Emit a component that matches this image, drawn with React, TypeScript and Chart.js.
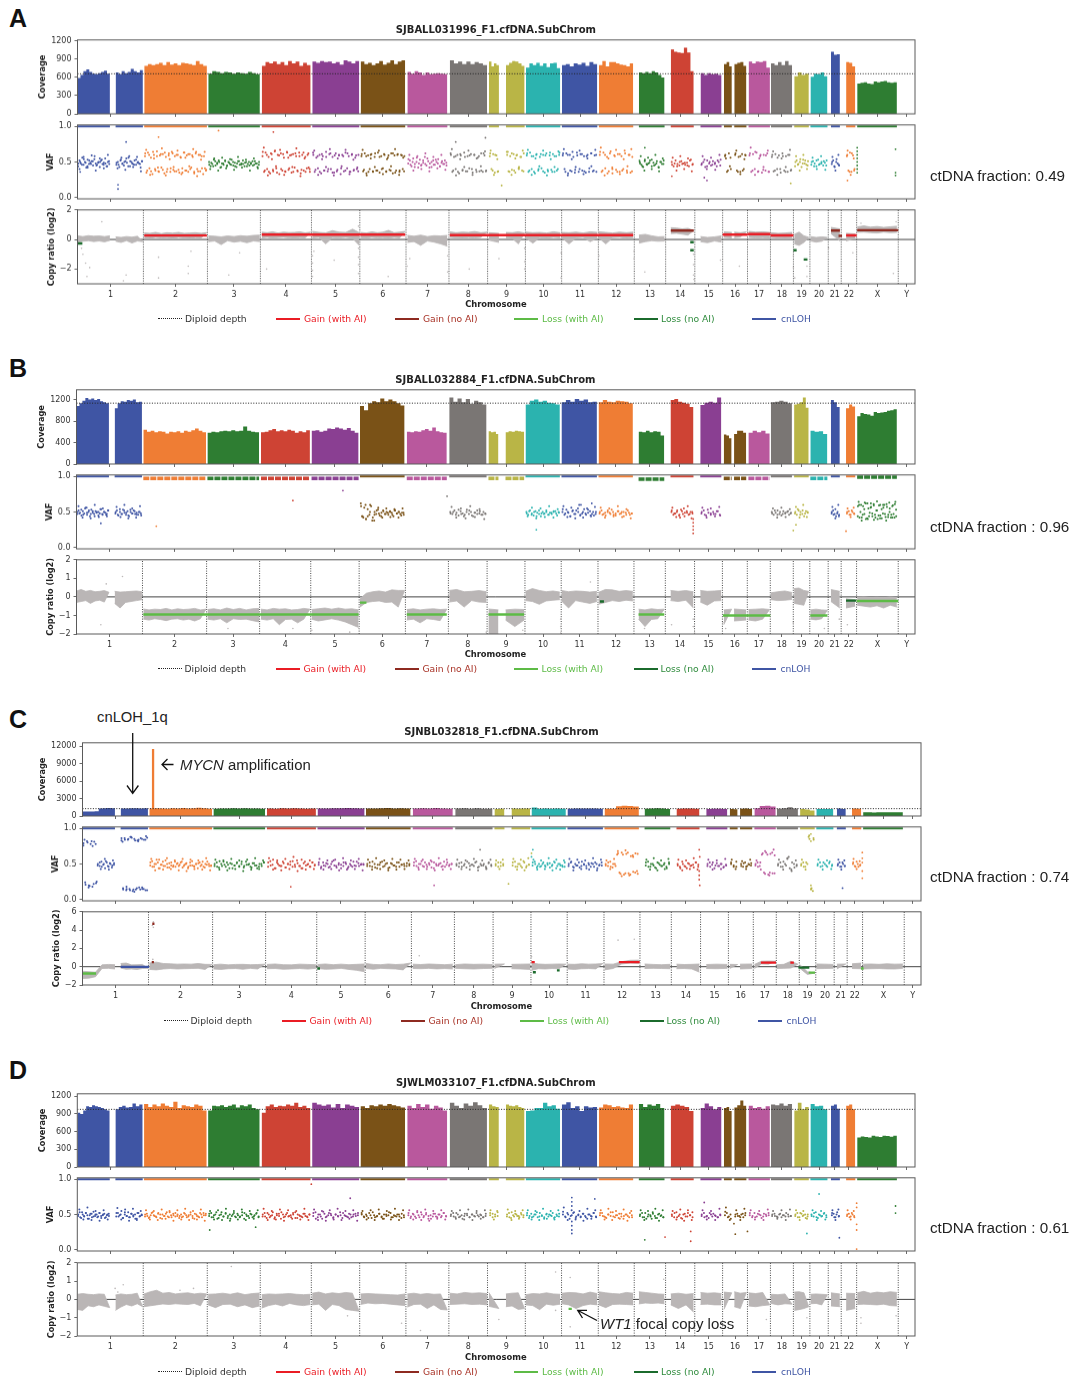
import React, { useEffect, useRef } from "react";
import { Chart, registerables } from "chart.js";
Chart.register(...registerables);

const chromLabels = ["1","2","3","4","5","6","7","8","9","10","11","12","13","14","15","16","17","18","19","20","21","22","X","Y"];
const chromEnds = [244,481,677,866,1045,1216,1375,1518,1658,1792,1928,2061,2177,2285,2388,2480,2565,2650,2711,2779,2827,2884,3038,3100];
const chromColors = ["#3F55A4","#EF7D34","#2E7D32","#CE4334","#8A3F92","#7A5217","#B9589D","#7A7674","#B9B546","#2BB3AF"];
// arm = [genome start, genome end, chromosome index]
const arms = [[0,120,0],[141,242,0],[247,479,1],[484,675,2],[682,863,3],[869,1043,4],[1048,1213,5],[1221,1369,6],[1378,1516,7],[1523,1560,8],[1586,1655,8],[1660,1787,9],[1793,1924,10],[1930,2057,11],[2078,2173,12],[2196,2281,13],[2306,2384,14],[2393,2422,15],[2431,2476,15],[2484,2563,16],[2567,2645,17],[2653,2707,18],[2713,2776,19],[2789,2822,20],[2845,2879,21],[2886,3033,22]];

const covA = [[590,640,700,730,690,660,650,670,690,710,660],[680,650,700,670,690,740,700,680,720],[790,820,800,820,840,800,850,810,830,800,840,830,820,800,870,820,790],[660,700,690,670,690,680,660,680,670,660,690,670,650],[790,850,830,860,820,850,800,870,830,860,790,840,800],[860,840,870,850,860,830,850,810,880,860,830,870],[860,820,840,800,830,870,810,840,880,820,860,880],[690,660,700,680,640,680,650,660,670,660,650],[880,830,860,820,860,820,850,830,800],[860,780,830,800],[800,840,870,860,830,790],[760,830,800,840,790,830,770,830,840,750],[800,820,780,830,810,840,790,850,820],[800,870,780,850,850,830,810,800,780,830],[680,670,690,670,700,680,640,600],[1060,1020,1010,1000,1090,1010,700],[670,640,670,650,660,640],[820,850,780],[820,840,850,790],[860,830,860,850,870,760],[830,800,850,800,870,800],[620,680,640,660],[610,660,650,680,620],[1020,970,980],[850,840,780],[500,510,520,500,490,530,520,530,540,520,510,520]];
const covB = [[1080,1130,1180,1230,1200,1220,1190,1210,1170,1150,1130],[1040,1130,1170,1160,1190,1180,1200,1150,1160],[640,600,620,590,610,600,570,600,590,610,580,620,600,630,660,620,590],[580,600,590,610,620,610,630,610,620,700,620,600,590],[590,600,630,650,610,630,610,640,620,580,610,590,630],[620,630,600,620,660,650,680,660,640,670,620,580],[1080,1000,1130,1170,1150,1220,1170,1200,1170,1130,1090],[600,590,610,600,630,650,620,680,610,590,580],[1240,1160,1220,1150,1210,1120,1180,1150,1110],[610,590,600,560],[590,610,600,620,610,600],[1110,1180,1200,1160,1180,1140,1130,1110],[1150,1190,1160,1210,1180,1200,1150,1160],[1150,1190,1160,1150,1180,1170,1160,1130],[600,590,620,590,610,600,530],[1190,1210,1160,1140,1120,1060],[1100,1140,1160,1140,1240],[550,530,480],[560,620,620,580],[580,620,590,620,570],[1150,1160,1180,1160,1130],[1110,1120,1150,1240,1050],[620,600,610,560],[1190,1150,1060],[1040,1110,1070],[890,950,930,920,900,970,950,960,970,990,1000,1020]];
const covC = [[760,780,770,800,1300,1320,1380,1330],[1280,1300,1340,1310,1290,1330],[1300,1320,1280,1260,1340,1300,1380,1290,1330,1400,1350,1260],[1240,1300,1280,1310,1290,1340,1300,1280,1250],[1300,1260,1320,1290,1340,1300,1260,1290],[1280,1300,1330,1340,1380,1320,1290],[1300,1280,1320,1360,1290,1310,1270],[1280,1320,1300,1360,1290,1250],[1280,1320,1260,1340,1260,1230],[1200,1250],[1280,1260,1300,1270],[1460,1260,1280,1240,1290,1250],[1260,1300,1290,1280,1270,1240],[1240,1260,1680,1740,1700,1640],[1250,1290,1350,1280,1190],[1260,1300,1280,1230],[1220,1260,1240,1210],[1200,1170],[1260,1300,1220],[1340,1700,1760,1640],[1240,1340,1520,1280],[1200,1120,930],[1190,1220,1180],[1280,1190],[1270,1250],[660,640,610,630,640,660,650,640,660]];
const covD = [[920,900,960,1030,1020,1050,1030,1020,1000,980,960],[980,1020,1040,1010,1020,1080,1030,1060],[1070,1020,1060,1030,1080,1040,1020,1110,1000,1050,1030,1020,1060,1040,960],[960,1040,1030,1050,1020,1040,1060,1010,1050,1030,1060,1000,980],[920,1030,1060,1020,1040,1030,1060,1040,1090,1020,1040,1000],[1090,1060,1040,1060,1010,1070,1000,1060,1040,1020],[1030,1000,1050,1030,1060,1040,1070,1050,1030,1010],[1040,1000,1070,1020,1060,990,1040,1010,960],[1090,1040,1000,1080,1040,1100,1050,1000],[1060,1030,1020],[1060,1040,1030,1050,1020,1000],[950,960,1000,1000,1090,1030,1050,990],[1060,1100,1000,1030,950,1030,1010,1020],[1010,1060,1050,1020,1030,1010,1000,1060],[1070,1020,1060,1040,1070,1000],[1040,1060,1040,1020,950],[1000,1080,1030,980,1020],[1000,1020,950],[1010,1050,1130,1040],[1040,1000,1020,990,1030],[1060,1050,1080,1040,1070],[960,1090,980,1020],[1070,1030,1040,980],[1040,1060,990],[1040,1060,980],[500,520,510,500,530,520,510,530,525,515,530]];

const vafA = [
[48,50,46,54,49,44,52,47,51,58,45,49,50,53,46,48,44,51],[49,46,52,47,50,55,44,51,48,46,53,50,47,51],
[62,38,60,37,64,40,58,36,61,39,63,36,59,41,62,37,60,39,57,35,63,38,61,40,59,36,64,37,60,41,58,38],
[46,49,44,51,47,50,43,48,52,45,49,46,50,44,48,51,46,47,49,44,50,47,45,51,48,46],
[64,38,60,36,62,39,66,35,59,40,61,37,63,41,60,36,62,38,58,39,63,36,60,40],
[60,39,58,36,61,38,57,40,62,35,59,37,60,41,58,38,62,36,60,39,59,37],
[61,39,58,36,60,37,62,38,57,40,61,36,59,38,62,35,60,38,59,37],
[54,46,50,43,56,48,45,52,47,55,42,50,46,53,48,44,51,47,49],
[60,38,58,36,61,39,57,37,59,40,60,36,58,38,62,37],[62,38,60,36],[60,36,62,38,59,40,57,37],
[62,38,58,36,60,40,61,37,59,39,63,36,58,38,60],[62,36,60,38,64,35,59,40,61,37,58,36,62,38,60],[64,38,60,34,62,40,58,36,61,38,66,35,60,37],
[48,44,51,46,49,53,45,48,42,50,47],[46,48,44,50,47,49,45,52,46],[48,53,44,50,46,49,52,45],[60,38,56],[62,36,58,38,60],
[62,38,64,36,60,39,59,36],[60,38,56,40,58,36,60,38],[50,46,54,48,52,45],[50,44,52,46,48,51,45],[50,44,54,46],[60,36,62,38],[]];
const vafA2 = [
[44,52,48,56,46,50,42,53,47,49,51,45,54,48,46,50,43,52,47,49,55,44,50,47],[46,50,43,53,48,45,51,49,56,44,50,47,52,46,49,48,42,51],
[58,35,63,41,56,33,60,38,65,37,59,42,61,34,57,40,62,36,64,39,58,37,60,35,56,41,63,38,59,36,61,42,57,34,62,40,60,37,58,33,64,39],
[50,44,47,53,45,49,52,42,48,46,51,44,50,47,53,45,49,43,51,46,48,52,44,50,47,45,49,51,46,48,43,50],
[58,36,63,40,57,34,61,37,65,41,60,33,62,38,56,36,64,39,59,35,61,42,58,37,63,34,60,38,57,41,62,36],
[63,36,56,41,60,34,58,38,64,37,61,40,57,35,62,39,59,33,60,37,63,41,58,36,61,38,56,40,60],
[58,37,62,34,59,40,61,36,57,38,63,35,58,41,60,37,56,39,62,34,59,38,61,36,60,40,58],
[48,52,44,55,47,50,42,53,46,49,57,45,51,48,43,52,46,50,54,44,49,47,52,45],
[62,36,57,40,60,34,59,38,63,37,58,41,61,35,60,39,56,37,62,36,59,38],[58,40,61,35,59,37],[64,37,58,39,61,35,60,41,57,38,62],
[59,36,63,40,58,34,61,38,57,41,60,35,62,37,59,39,61,36,58,40,63],[59,40,62,34,60,37,57,39,63,36,61,38,58,35,60,41,62,37,59,36],[60,36,63,41,57,37,65,34,59,39,61,36,58,40,62,38,60,35,57],
[50,46,43,53,47,48,52,44,49,46,51,43,50,47,52],[50,44,52,47,45,51,48,46,49,44,53,47],[46,50,43,52,48,45,51,47,44,50,53],[58,36,62,40],[60,38,57,36,61,40,59],
[59,36,61,40,63,37,58,35,60,38,62,36],[57,37,61,40,59,35,62,38,58,36,60,39],[44,52,47,50,43,53,48,46,51],[46,51,48,44,53,47,50,45,49,52],[47,52,43,50,48,45],[58,38,63,36,59,40],[]];
const vafA3 = [
[40,57,42,59,38,55,41,60],[41,56,39,58,43,57,37],
[67,32,55,42,69,31,54,43,66,33,56,44,68,30,53,41],[40,55,38,56,41,54,39,57,42,53,38,55,41],
[70,31,54,44,67,32,56,43,69,30,55,42],[66,32,54,43,68,31,55,44,67,33,53,42],[67,31,55,43,66,33,54,44,68,32,56],
[60,38,58,40,62,37,57,41,60,39],[68,31,54,43,66,32,55,44,65],[66,32,54],[64,32,55,43,66],
[67,32,55,44,66,31,54,43,65],[68,31,54,43,66,33,55,44,67],[70,31,55,42,67,33,54,44,68],
[58,38,56,40,60,37,55],[56,38,58,40,55,37],[58,40,56,39,60],[55,44],[66,33,54],[70,32,55,43,66],[65,32,55,43,67],[58,38,60,40],[56,40,58,39],[57,38,60],[66,32,55],[]];
const vafB = [
[50,48,53,46,55,49,52,47,51,44,49,50,54,47,50,46,52],[50,46,54,47,52,49,45,53,48,51,46,50,48],[],[],[],[],
[58,42,60,44,50,38,46,52,48,44,51,47,49,50,46,52,48,50,45,49],[],[48,50,46,53,47,44,50,52,45,49,47,51,46,48],[],[],
[48,51,46,50,44,52,48,47,50,46,49,51,48,50],[54,48,50,44,52,47,55,46,50,48,53,45,50,47],[50,46,49,52,47,50,45,51,48,50,46,49,48],
[],[52,48,50,46,51,44,49,47,50],[50,46,53,48,47,51,46],[],[],[],[48,52,46,50,47,49,51,48],[50,54,46,52,48,50],[],[50,46,54,48,44],[50,46,52,48],
[58,42,60,46,54,40,62,44,56,48,59,42,52,45,60,41,56,47,61,43,55,46,59,42,53]];
const vafB2 = [
[47,52,49,45,51,48,56,46,50,44,53,49,47,51,50,45,48,54,46,50,49,47,52],[48,52,45,50,47,53,49,46,51,44,50,48,52,47,49,46,50,45],[],[],[],[],
[62,44,56,40,54,46,58,42,50,47,53,45,49,52,47,50,46,51,49,44,52,48,50,47,49,46],[],[50,47,52,49,45,51,48,46,53,47,50,44,49,52,48,46,50,47],[],[],
[50,46,52,48,45,51,49,47,44,50,48,52,46,49,47,50,51,45,49],[50,46,53,49,44,51,47,52,50,45,48,54,46,49,51,47,45,50],[48,52,47,45,50,49,53,46,48,51,47,50,44,49,52,46,48],
[],[50,46,48,52,45,53,47,49,51,46,50,48],[48,52,45,49,46,50,47,51,45],[],[],[],[50,46,49,52,47,45,51,48,50,46,49],[48,46,52,50,47,44,51,49],[],[48,52,47,44,50,46],[48,51,46,50,47],
[44,60,50,42,58,47,62,41,55,49,57,44,61,46,52,40,59,45,54,48,60,43,57,46,50,42,58,47,61,44]];
const vafB3 = [
[58,42,56,41,60,43,55,44],[57,43,60,41,55,42,58],[],[],[],[],
[44,40,60,38,56,42,55,43,54,42,55],[],[57,42,55,41,58,43,54,40],[],[],
[44,56,41,55,43,58,42,54],[58,43,56,41,60,42,55,44,57],[56,42,55,44,58,43,54,41],
[],[56,43,42,55,58,41],[56,42,55,44,57],[],[],[],[55,42,56,43,54],[57,42,60,43],[],[57,41,60],[55,43,56],
[64,38,63,40,62,39,65,41,60,38,63,42,64]];
const vafC = [
[79,21,80,19,82,22,78,48,52,46,50,54,47,51,45,49],[86,14,84,15,85,13,87,14,83,16,84,14,85,15,84,13],
[52,46,50,56,44,49,53,47,50,45,52,48,46,51,49,53,47,50,44,52,48,46,50,51,47,53,45,49,50,47],
[50,46,54,47,49,52,44,50,48,51,46,53,47,49,50,45,51,48,46,50,52],[52,48,56,44,50,47,53,45,50,49,54,46,51,47,44,53,49,46,52,48],
[52,46,48,51,45,50,55,47,49,44,52,50,46,48,53,47,51,49,50],[50,47,53,45,49,52,46,50,44,51,48,46,52,49,50,47,48],
[52,47,50,54,46,49,51,45,52,48,50,46,53,49,47,50],[48,51,46,50,53,47,49,52,45,50,48,46,51,49],[50,46,52,48],[52,46,50,47,54,45,49],
[52,50,47,46,50,48,51,45,49,52,47,50,48,46],[50,53,45,48,52,47,50,44,49,51,46,50,48,52],[48,52,46,50,47,65,36,63,37,66,35,62,38,64],
[52,46,50,48,44,51,47,49,46,52],[48,44,50,46,51,47,49,52,46],[50,46,52,48,47,50,45,49],[52,48,46],[47,51,46,50,48],
[50,46,52,65,36,63,38,66,37],[50,46,53,48,60,42,50,47],[50,46,52,88,14,86],[50,46,52,48,51,47],[50,46,52,47],[52,46,50,48],[]];
const vafC2 = [
[76,24,82,20,78,18,81,23,50,47,53,49,44,52,46,50,48,51],[83,16,86,13,84,15,88,12,85,14,83,17,86,15,84,13,87],
[48,54,46,50,52,44,49,47,55,45,51,48,46,53,50,47,52,45,49,51,46,48,54,47,50,44,52,49,46,50,53,47,48],
[47,52,45,50,53,46,49,51,44,48,52,47,50,45,53,49,46,51,48,44,50,47,52],[46,54,49,44,52,48,47,51,45,50,53,46,49,55,47,44,51,48,50,46,52,49],
[49,44,52,47,50,46,53,48,45,51,49,47,52,44,50,46,48,53,47,50,49],[47,52,46,50,44,49,53,47,51,45,50,48,52,46,49,47,51,50],
[48,54,45,50,47,52,46,49,53,44,50,48,51,47,46,52,49,50],[50,46,52,48,45,51,49,47,53,46,48,50,44,52,47],[48,52,47,50],[48,53,46,50,45,52,47,49],
[48,53,45,50,47,52,46,49,51,47,53,44,50,48,46,52],[47,52,46,50,48,45,53,49,47,51,46,50,52,44,49,48],[50,47,53,45,50,63,38,66,35,64,37,61,39,65,36],
[48,53,46,50,45,52,49,47,51,44,50],[50,46,53,47,44,50,48,45,52,49],[47,52,49,44,51,47,50,46,48],[50,46,53],[50,46,52,47,49,51],
[48,52,47,63,38,66,35,64,37,62],[48,52,46,50,57,44,52,45,49],[48,52,46,50,85,16,84],[48,52,47,50,46,53,49],[48,52,46,50,47],[50,47,53,46,49],[]];
const vafC3 = [
[84,17,75,25,43,57,42,55],[81,18,88,11,82,17,89],
[57,41,56,42,58,43,55,41,57,40,56,43,55,42,58,41],[56,42,55,41,57,43,55,40,56,42,58,43,55],[58,42,55,41,57,43,60,40,56,42,55,43],[57,42,55,43,56,41,58,42,55,43,57,41],[56,42,58,43,55,41,57,42,56,43,55],
[57,42,56,43,55,41,58,42,56,43],[56,43,55,42,57,41,55,43,56],[55,43,56],[57,42,56,41,58],
[56,42,55,43,58,41,56,42,55],[57,41,56,43,55,42,58,41,56],[55,43,57,68,33,69,34,60,40],
[56,42,58,41,55,43,57],[56,41,55,43,58,42],[56,42,55,43,57],[56,43],[54,43,56],[55,42,68,34,70],[56,42,58,40,55],[56,42,90,12],[56,42,55,43],[56,42,55],[57,43,54],[]];
const vafD = [
[50,46,53,48,52,44,49,51,47,50,46,52,48,50,45,49,51],[52,47,50,45,53,48,46,51,49,44,52,47,50],
[50,48,46,52,49,47,51,45,50,48,53,46,49,51,47,50,48,46,52,49,47,50,45,51,48,46,50,52,49],
[51,46,49,53,45,50,47,52,48,44,50,47,51,46,49,52,48,45,50,47,51,46],[50,47,52,46,49,44,51,48,53,46,50,47,49,52,45,50,48,46,51,47,50],
[52,44,50,47,54,46,49,51,45,50,47,49,52,48,46,50,47,51,49],[50,46,48,52,45,49,47,51,46,50,48,53,46,49,47,50,45,49],
[52,47,50,45,49,53,46,50,48,44,51,47,50,46,52,48],[50,47,52,46,49,48,51,46,50,47,49,50,46,48],[52,46,50,48],[50,46,53,47,50,48,52,46],
[52,48,46,50,53,47,49,46,51,50,48,45,50,47],[54,46,50,48,52,45,49,47,51,46,50,48,52,47],[52,48,46,50,53,47,49,45,51,48,50,46,49],
[50,46,52,47,49,51,45,50,48,46],[48,52,46,50,44,51,47,49,53],[50,46,48,52,47,49,46,50],[54,46,50],[50,48,46,51,49],[52,48,46,51,49,47,50,52],[50,48,46,51,49,47,50,48],[50,46,52,48,50,47],[48,52,46,50,47,51,49],[52,46,50,47],[50,46,52,48],[]];
const vafD2 = [
[48,53,45,50,47,52,49,44,51,46,54,48,50,47,52,45,49,51,46,50,48],[47,52,49,55,45,50,48,53,46,51,47,50,44,52,48,49],
[47,51,45,49,53,48,46,52,50,44,48,51,47,53,46,49,52,48,45,50,47,51,46,49,53,48,44,50,47,52,46,49,51],
[48,52,46,50,44,49,53,47,51,45,50,48,52,46,49,47,53,44,50,48,51,46,49,52,47],[47,52,45,50,48,53,46,49,51,44,50,47,52,48,46,50,53,45,49,47,51,48,46,50],
[48,53,46,50,44,51,47,52,49,46,50,48,53,45,49,47,51,46,50,48,52],[52,47,50,45,49,53,46,48,51,47,44,50,49,52,46,48,50,47,51,46],
[49,45,51,47,53,46,50,48,52,44,49,47,51,46,50,48,52,47],[48,52,46,50,47,44,51,49,46,50,48,52,47,49,46,51],[49,51,47,53],[47,52,45,49,51,48,46,50,49],
[49,45,51,47,50,46,52,48,44,50,47,49,52,46,48,51],[50,47,52,44,49,53,47,50,46,51,48,44,50,47,52,46],[49,52,47,45,50,48,53,46,49,51,47,44,50,48,52,46],
[48,52,46,44,50,47,53,48,45,51,49,46],[50,46,53,48,45,50,47,52,49,46],[48,52,47,45,50,51,48,46,49],[49,52,47,44],[47,51,48,50,46,52],[49,46,52,47,50,45,51,48,49],[48,51,47,50,46,49,52,47,48],[48,52,46,51,49,45,50],[50,47,53,45,49,48,52,46],[49,51,46,53,48],[48,51,47,50,46],[]];
const vafD3 = [
[57,43,60,42,55,41,56,43],[59,43,57,41,58,42,55],
[56,43,55,42,57,44,55,41,56,43,58,42,55,43,57,41],[55,43,56,42,58,41,55,43,57,42,55,44,56],[58,42,55,43,57,41,56,44,55,43,58,42],[57,42,55,41,56,43,58,42,55,44,56,41],[55,43,56,42,57,44,55,43,58,42,56],
[56,43,55,42,57,41,55,44,56,43],[55,44,56,43,57,42,55,44,56],[56,43,55],[57,42,55,44,56],
[56,43,55,42,58,44,55,43,56],[60,42,56,43,55,41,58,44,56],[56,43,58,42,55,44,57,41,55],
[56,42,55,44,58,41,56],[55,43,57,41,56,42],[56,43,55,42,58],[60,42],[56,42,58],[56,43,55,42,57],[55,44,56,42,57],[56,42,55,44],[56,42,55,43],[56,42,57],[56,43,55],[]];

// level of the band of homozygous sites near VAF 1.0, one per arm (percent)
const topA = [100,100,100,100,100,100,100,100,100,100,100,100,100,100,100,100,100,100,100,100,100,100,100,100,100,100];
const topB = [100,100,97,97,97,97,100,97,100,97,97,100,100,100,96,100,100,97,97,97,100,100,97,100,100,99];
const topC = topA;
const topD = topA;

// outlying VAF points: [genome position, percent, chromosome index]
const vafOutA = [[165,114,0],[300,85,1],[10,36,0],[522,94,1],[1400,78,7],[180,78,0],[150,12,0],[150,18,0],[725,92,3],[1510,84,7],[2100,70,12],[2080,52,12],[2200,30,13],[2886,65,22],[2886,60,22],[2886,55,22],[2886,50,22],[2886,45,22],[2886,40,22],[2886,35,22],[2886,70,22],[3028,68,22],[3028,35,22],[3028,31,22],[1570,17,8],[2850,24,21],[2320,28,14],[2330,24,14],[2640,20,18]];
const vafOutB = [[800,66,3],[985,80,4],[2280,40,13],[2280,35,13],[2280,30,13],[2280,25,13],[2280,20,13],[2845,23,21],[1370,72,7],[1700,25,9],[1865,60,10],[1905,62,10],[2650,24,18],[90,34,0],[295,30,1],[2660,32,18]];
const vafOutC = [[1660,65,8],[1660,60,9],[1665,70,9],[2280,70,13],[2280,40,13],[2280,34,13],[2280,28,13],[2282,60,13],[2282,20,13],[2693,92,18],[2693,82,18],[2693,20,18],[2693,15,18],[1575,22,8],[1470,70,7],[1300,20,6],[2883,66,21],[2883,30,21],[2883,40,21],[2883,52,21],[2883,58,21],[2810,16,20],[770,18,3]];
const vafOutD = [[1830,74,10],[1830,68,10],[1830,62,10],[1830,34,10],[1830,28,10],[1830,23,10],[1830,40,10],[1915,72,10],[2320,67,14],[2430,37,15],[2435,22,15],[2480,26,15],[2884,60,21],[2884,66,21],[2884,36,21],[2884,28,21],[2884,1,21],[3028,62,22],[3028,52,22],[2175,18,13],[2270,12,13],[2270,26,13],[2745,79,19],[2700,23,19],[2820,17,20],[490,28,2],[660,32,2],[1010,73,4],[2100,14,12],[866,93,3]];

// copy-ratio band per arm, as alternating envelope values (log2 ratio x100)
const crA = [[-18,25,-12,20,-8,26,-14,22,-10,24,-16,20,-6,25],[-12,18,-20,14,-8,20,-24,16,-10,22,-15],[45,12,42,8,48,14,40,10,46,12,43,6,48,14,42,10,44,8,46,12,42,10,47],[-15,25,-10,22,-35,18,-8,24,-18,20,-12,26,-22,22,-10,28,-14,30],[50,10,46,14,52,8,44,12,50,15,47,10,48,6,52,12,45,10,50],[55,10,48,14,-30,45,12,60,10,50,14,48,8,70,-40,46],[48,12,44,8,52,14,46,10,50,12,62,8,46,14,50,10,55],[28,-20,22,-14,30,-40,20,-10,26,-18,24,-30,28,-45],[52,14,46,10,50,8,48,12,54,10,46,14,50],[46,-5,42,-20],[48,10,46,8,52,-30,44],[50,10,46,-25,48,12,44,8,52,14,46,10],[48,12,46,-30,50,10,44,14,52,-15,48,10],[52,10,48,-30,44,12,50,14,46,8,50,12],[30,-25,35,-15,25,-8,18,-12,20,-10],[80,40,78,42,72,36,76,30,60],[20,-15,14,-22,18,-10,25,-18],[52,14,48,10],[50,12,46,16,52],[55,14,50,10,52,12,48,8],[46,14,42,10,44,8,48,12],[35,-30,50,-40,25,-20,15],[20,-10,14,-18,18,-12,14],[82,40,72,-10],[42,-10,38,8],[85,48,92,50,84,46,88,44,82,50,86,46,90,48]];
const crB = [[32,-30,40,-25,30,-20,35,-35,28,-22,30,-18,34,-28,25],[-35,30,-60,26,-30,28,-25,30,-20,32,-15,28],[-65,-120,-70,-125,-66,-118,-68,-122,-62,-128,-70,-120,-64,-118,-68,-125,-66,-120,-62,-130,-70,-118,-66],[-68,-120,-64,-125,-70,-118,-60,-140,-68,-118,-62,-122,-70,-120,-64,-128,-62,-135],[-66,-120,-70,-125,-62,-118,-66,-150,-64,-122,-70,-120,-68,-140,-62,-120,-66],[-68,-120,-64,-130,-60,-124,-66,-118,-60,-125,-66,-135,-64,-150,-70,-165],[-10,-55,20,-30,28,-25,32,-22,26,-30,38,-28,35,-55,35],[-68,-125,-64,-120,-70,-140,-66,-118,-64,-122,-68,-128,-66],[35,-28,40,-22,28,-55,30,-20,34,-28,28,-30],[-65,-200,-70,-200],[-70,-125,-66,-160,-68,-125],[30,-20,45,-25,35,-40,28,-22,32,-18,26,-15],[35,-22,28,-60,32,-20,30,-28,26,-35,30,-25],[25,-40,40,-30,38,-20,30,-25,34,-18,30,-22],[-66,-120,-70,-160,-64,-122,-68,-118,-66],[35,-20,30,-25,34,-18,28,-60],[35,-28,30,-45,32,-22,35,-20],[-70,-150,-66],[-65,-130,-70,-125],[-68,-125,-66,-130,-64,-120,-68],[22,-15,28,-20,32,-18,24,-14],[45,-35,48,-40,35,-45,30],[-70,-120,-66,-124,-70,-118,-72],[40,-25,30,-60],[-10,-60,-15,-50],[-2,-45,0,-50,-4,-55,-2,-48,-5,-60,0,-45,-4,-55]];
const crC = [[-50,-130,-55,-125,-60,-110,20,-20,25,-18,22,-25],[-15,35,-28,40,-25,20,-30,22,-20,25,-18],[40,-30,50,-35,35,-25,32,-20,28,-25,30,-22,28,-20,35,-18,26,-30,25],[22,-25,28,-30,20,-22,25,-20,26,-28,22,-18,24,-25,28],[25,-22,30,-20,22,-28,20,-24,28,-20,25,-26,22,-18],[24,-20,30,-28,22,-25,28,-18,22,-30,26,-40,30,-55],[35,-20,25,-28,22,-18,30,-22,24,-25,28,-35,40],[28,-20,24,-22,30,-18,26,-24,22,-20,28,-25],[22,-18,30,-22,26,-25,28,-20,24,-18],[28,-20,30],[26,-22,28,-25,30,-30],[40,-40,30,-22,26,-25,28,-20,30,-22,28],[28,-25,26,-30,32,-22,28,-20,30,-24,35],[30,-35,28,-20,55,30,70,40,72,36],[30,-20,25,-18,22,-20,26,-22],[28,-22,24,-20,26,-25,30,-60],[24,-20,28,-22,25,-18],[26,-20,24],[28,-25,30,-20],[25,-20,60,30,62,28,60],[22,-20,26,-18,60,-15,28],[20,-20,-55,-85,-70],[30,-22,28,-20,25,-18],[28,-25,30],[32,-20,40,-22],[28,-25,30,-22,26,-20,32,-24,28,-25,30,-18]];
const crD = [[-55,28,-60,32,-35,28,-40,26,-30,30,-38,28,-45],[-60,24,-42,30,-28,26,-36,28,-24,34,-40],[30,-40,42,-35,50,-30,34,-25,38,-28,30,-24,34,-26,36,-28,30,-22,34,-35,30],[-30,28,-45,30,-28,34,-26,28,-40,36,-30,26,-45,32,-36,35],[-48,26,-34,30,-26,28,-36,30,-22,32,-30,28,-34,26,-28,28],[-30,34,-26,40,-60,30,-28,36,-34,32,-55,38,-60,34,-65],[-28,30,-20,32,-24,30,-22,28,-26,26,-30,24,-34,30],[-42,30,-28,34,-26,28,-50,32,-30,28,-55,30,-58],[-28,34,-26,30,-24,38,-28,34,-26,36,-30,32],[-38,38,-50],[-40,30,-36,34,-55,36,-50],[-30,26,-34,32,-56,30,-26,36,-32,30,-26,28],[-24,34,-30,38,-50,36,-34,30,-26,40,-30,32],[-30,42,-45,36,-28,32,-26,30,-28,38,-30,34],[42,-25,38,-20,34,-22,30,-20,28,-24],[30,-30,34,-50,28,-30,32,-70],[38,-28,34,-26,36,-30,32,-30],[40,-55,36],[42,-40,34,-50,38],[-36,36,-40,32,-34,38,-30],[-22,28,-30,26,-24,30,-26],[-60,40,-56,42,-50,36,-40],[28,-24,30,-22,28,-30,26],[36,-36,30,-40],[-60,34,-50,32],[36,-28,44,-26,34,-28,40,-30,36,-26,42,-34,38,-36]];

// outlying copy-ratio points: [genome position, log2 ratio x100]
const crOutA = [[20,-100],[30,-160],[35,-250],[45,-190],[15,-60],[170,-280],[180,-240],[90,120],[300,-120],[420,-80],[410,-180],[410,-230],[560,-240],[600,-90],[300,-260],[870,-110],[870,-160],[870,-210],[870,-250],[875,-80],[1040,-60],[1040,-120],[1040,-170],[1040,-230],[1040,90],[1230,-130],[1370,-110],[1370,-220],[1220,-180],[1560,-130],[1655,-150],[1655,-200],[1655,-60],[1790,-90],[1790,-260],[1930,-180],[1930,-110],[2060,-130],[2060,-80],[2280,-100],[2280,-170],[2280,-240],[2282,-270],[2650,-110],[2650,-190],[2655,-260],[2700,-180],[2700,-250],[2780,-60],[3030,120],[2900,110],[700,-200],[950,-140],[1150,-250],[1450,-200],[2100,-220],[2450,-180],[2380,-140],[3020,-230],[2870,-90]];
const crOutB = [[90,-150],[110,70],[1010,-190],[1045,-170],[870,-180],[1375,-170],[1515,-190],[1545,-190],[1550,-170],[1650,-180],[1790,-120],[1790,-160],[1790,-195],[2280,-120],[2280,-160],[2285,-195],[2390,-140],[2400,-170],[2650,-140],[2765,-170],[2820,-120],[2850,-150],[2200,-150],[800,-170],[2100,-170],[170,110],[1900,80],[560,-170]];
const crOutC = [[258,450],[262,490],[262,430],[260,80],[2040,300],[1245,120],[1980,290],[1660,110],[2650,90],[1790,120]];
const crOutD = [[140,60],[150,40],[170,80],[380,50],[570,180],[1000,-90],[1200,-130],[1270,-170],[1770,150],[1824,120],[1824,-150],[1560,-110],[2170,110],[2900,-100],[2900,-130],[2550,-110],[2700,-100],[3030,-90],[1770,-60],[430,60]];

// copy-number segments: [start, end, value, kind]
const segA = [[0,18,-0.27,"lossNo"],[247,479,0.27,"gain"],[682,1213,0.33,"gain"],[1378,2057,0.3,"gain"],[2196,2281,0.6,"gainNo"],[2268,2281,-0.18,"lossNo"],[2268,2281,-0.73,"lossNo"],[2388,2480,0.33,"gain"],[2480,2565,0.36,"gain"],[2565,2650,0.28,"gain"],[2650,2662,-0.73,"lossNo"],[2688,2702,-1.35,"lossNo"],[2789,2822,0.6,"gainNo"],[2817,2830,0.24,"gainNo"],[2845,2884,0.28,"gain"],[2886,3038,0.63,"gainNo"]];
const segB = [[247,1043,-0.95,"loss"],[1048,1072,-0.31,"loss"],[1221,1369,-0.95,"loss"],[1523,1655,-0.95,"loss"],[1935,1950,-0.25,"lossNo"],[2078,2173,-0.95,"loss"],[2390,2565,-1,"loss"],[2713,2776,-1,"loss"],[2845,2882,-0.2,"lossNo"],[2884,3038,-0.22,"loss"]];
const segC = [[0,50,-0.75,"loss"],[141,246,-0.02,"cnloh"],[258,266,4.7,"gainNo"],[256,264,0.5,"gainNo"],[868,878,-0.2,"lossNo"],[1660,1672,0.5,"gain"],[1665,1676,-0.6,"lossNo"],[1754,1764,-0.4,"lossNo"],[1983,2060,0.5,"gain"],[2508,2564,0.45,"gain"],[2617,2630,0.45,"gain"],[2647,2687,-0.1,"lossNo"],[2685,2708,-0.65,"loss"],[2878,2888,-0.2,"loss"]];
const segD = [[1818,1830,-0.52,"loss"]];
const spikeC = [[256,266,11500,1]];

const segColors: Record<string,string> = { gain:"#EA1C24", gainNo:"#8E2A20", loss:"#5DBB46", lossNo:"#1B6B2C", cnloh:"#3F55A4" };

const legendItems = [
  { label:"Diploid depth", x0:158, text:185, color:"#333", line:"#222", dash:true },
  { label:"Gain (with AI)", x0:276, text:304, color:"#EA1C24", line:"#EA1C24" },
  { label:"Gain (no AI)", x0:395, text:423, color:"#A83226", line:"#8E2A20" },
  { label:"Loss (with AI)", x0:514, text:542, color:"#5DBB46", line:"#5DBB46" },
  { label:"Loss (no AI)", x0:634, text:661, color:"#2E8B3C", line:"#1B6B2C" },
  { label:"cnLOH", x0:752, text:781, color:"#3F55A4", line:"#3F55A4" },
];

const panels = [
  { id:"A", title:"SJBALL031996_F1.cfDNA.SubChrom", left:77.5, right:915, titleY:30, letterY:18, xLabelY:304, legendY:319, legendDx:0, fracText:"ctDNA fraction: 0.49", fracY:176, titleX:[43,51,52],
    cov:covA, vaf:vafA, vaf2:vafA2, vaf3:vafA3, cr:crA, top:topA, vafOut:vafOutA, crOut:crOutA, seg:segA, spike:[],
    covBox:[38,113.7,0,1216], covTicks:[0,300,600,900,1200], diploid:659,
    vafBox:[123.3,199], crBox:[208,283.7,-3,2], crTicks:[-2,0,2] },
  { id:"B", title:"SJBALL032884_F1.cfDNA.SubChrom", left:76.5, right:915, titleY:380, letterY:368, xLabelY:654, legendY:669, legendDx:-0.5, fracText:"ctDNA fraction : 0.96", fracY:527, titleX:[42,50,51],
    cov:covB, vaf:vafB, vaf2:vafB2, vaf3:vafB3, cr:crB, top:topB, vafOut:vafOutB, crOut:crOutB, seg:segB, spike:[],
    covBox:[388,464,0,1382], covTicks:[0,400,800,1200], diploid:1133,
    vafBox:[473.3,549], crBox:[557.7,633.7,-2,2], crTicks:[-2,-1,0,1,2] },
  { id:"C", title:"SJNBL032818_F1.cfDNA.SubChrom", left:82.5, right:921, titleY:732, letterY:719, xLabelY:1006, legendY:1021, legendDx:5.5, fracText:"ctDNA fraction : 0.74", fracY:877, titleX:[43,56,57],
    cov:covC, vaf:vafC, vaf2:vafC2, vaf3:vafC3, cr:crC, top:topC, vafOut:vafOutC, crOut:crOutC, seg:segC, spike:spikeC,
    covBox:[740.7,816.3,0,12550], covTicks:[0,3000,6000,9000,12000], diploid:1260,
    vafBox:[825.3,900.7], crBox:[910,985.3,-2,6], crTicks:[-2,0,2,4,6] },
  { id:"D", title:"SJWLM033107_F1.cfDNA.SubChrom", left:77.3, right:915, titleY:1083, letterY:1070, xLabelY:1357, legendY:1372, legendDx:0, fracText:"ctDNA fraction : 0.61", fracY:1228, titleX:[43,51,52],
    cov:covD, vaf:vafD, vaf2:vafD2, vaf3:vafD3, cr:crD, top:topD, vafOut:vafOutD, crOut:crOutD, seg:segD, spike:[],
    covBox:[1091.7,1167,0,1243], covTicks:[0,300,600,900,1200], diploid:979,
    vafBox:[1176,1251.3], crBox:[1260.7,1336.3,-2,2], crTicks:[-2,-1,0,1,2] },
];

const FONT = "'DejaVu Sans'";
const chromMids = chromEnds.map((e, i) => (e + (i ? chromEnds[i - 1] : 0)) / 2);

function spread(arm: number[], vals: number[], scale: number) {
  const w = (arm[1] - arm[0]) / vals.length;
  return vals.map((v, i) => ({ x: arm[0] + (i + 0.5) * w, y: v * scale }));
}
function hline(x0: number, x1: number, y: number, color: string, width: number, order: number, dash?: number[]) {
  return { data:[{x:x0,y},{x:x1,y}], showLine:true, pointRadius:0, borderColor:color, borderWidth:width, borderDash:dash||[], borderCapStyle:"butt", order };
}
function covSets(p: any) {
  const sets: any[] = p.cov.map((vals: number[], i: number) => {
    const a = arms[i], w = (a[1] - a[0]) / vals.length, c = chromColors[a[2] % 10];
    const pts: any[] = [];
    vals.forEach((v, k) => { pts.push({x:a[0]+k*w,y:v},{x:a[0]+(k+1)*w,y:v}); });
    return { data:pts, showLine:true, fill:"origin", backgroundColor:c, borderColor:c, borderWidth:0, pointRadius:0, order:5 };
  });
  p.spike.forEach((s: number[]) => {
    const c = chromColors[s[3]];
    sets.push({ data:[{x:s[0],y:s[2]},{x:s[1],y:s[2]}], showLine:true, fill:"origin", backgroundColor:c, borderColor:c, borderWidth:0, pointRadius:0, order:4 });
  });
  sets.push(hline(0, 3100, p.diploid, "#222", 1, 0, [1,1.6]));
  return sets;
}
function vafSets(p: any) {
  const sets: any[] = [];
  p.vaf.forEach((vals: number[], i: number) => {
    const a = arms[i], c = chromColors[a[2] % 10];
    [vals, p.vaf2[i], p.vaf3[i]].forEach((list: number[]) => {
      sets.push({ data:spread(a, list, 0.01), backgroundColor:c, borderWidth:0, pointRadius:1, order:2 });
    });
    const lvl = p.top[i] / 100;
    sets.push(hline(a[0], a[1], lvl, c, lvl < 1 ? 3.5 : 2, 3, lvl < 1 ? [6,1] : []));
  });
  p.vafOut.forEach((o: number[]) => {
    sets.push({ data:[{x:o[0],y:o[1]/100}], backgroundColor:chromColors[o[2] % 10], borderWidth:0, pointRadius:0.9, order:2 });
  });
  return sets;
}
function crSets(p: any, yMin: number, yMax: number) {
  const sets: any[] = [];
  p.seg.forEach((s: any[]) => sets.push(hline(s[0], s[1], s[2], segColors[s[3]], 2.4, 0)));
  chromEnds.slice(0, 23).forEach((e) => sets.push({ data:[{x:e,y:yMin},{x:e,y:yMax}], showLine:true, pointRadius:0, borderColor:"#333", borderWidth:0.9, borderDash:[1,1.4], order:3 }));
  sets.push(hline(0, 3100, 0, "#444", 1, 4));
  p.cr.forEach((vals: number[], i: number) => {
    // the list alternates upper and lower edges of the band: shade between neighbouring pairs
    const a = arms[i], n = Math.ceil(vals.length / 2), w = (a[1] - a[0]) / Math.max(n - 1, 1);
    const up: any[] = [], lo: any[] = [];
    for (let k = 0; k < n; k++) {
      const u = vals[2*k], v = vals[2*k+1] ?? vals[2*k];
      up.push({ x:a[0]+k*w, y:Math.max(u,v)/100 });
      lo.push({ x:a[0]+k*w, y:Math.min(u,v)/100 });
    }
    const base = { showLine:true, pointRadius:0, borderColor:"#BAB6B6", borderWidth:0.8, backgroundColor:"#BAB6B6", order:1 };
    sets.push({ ...base, data:up, fill:"+1" }, { ...base, data:lo, fill:false });
  });
  sets.push({ data:p.crOut.map((o: number[]) => ({x:o[0],y:o[1]/100})), backgroundColor:"#BDB9B9", borderWidth:0, pointRadius:0.8, order:1 });
  return sets;
}

function Plot({ p, box, yMin, yMax, yTicks, yTitle, titleX, sets, xLabels, fmt }: any) {
  const ref = useRef<HTMLCanvasElement>(null);
  const padTop = 6, xH = 18;
  const top = box[0] - padTop, height = box[1] - box[0] + padTop + xH;
  useEffect(() => {
    const chart = new Chart(ref.current as any, {
      type:"scatter",
      data:{ datasets:sets },
      plugins:[{ id:"frame", afterDatasetsDraw(c: any) {
        const a = c.chartArea, g = c.ctx; g.save(); g.strokeStyle = "#5a5a5a"; g.lineWidth = 1; g.strokeRect(a.left, a.top, a.right-a.left, a.bottom-a.top); g.restore();
      } }],
      options:{
        responsive:false, animation:false, events:[],
        layout:{ autoPadding:false, padding:{ top:padTop, left:titleX-5, right:1080-p.right, bottom:0 } },
        plugins:{ legend:{display:false}, tooltip:{enabled:false} },
        scales:{
          x:{ type:"linear", min:0, max:3100,
            afterBuildTicks:(s: any) => { s.ticks = chromMids.map((v) => ({value:v})); },
            afterFit:(s: any) => { s.height = xH; },
            border:{display:false},
            grid:{ drawOnChartArea:false, drawTicks:true, tickLength:3, color:"#444", lineWidth:0.8 },
            ticks:{ autoSkip:false, maxRotation:0, minRotation:0, padding:3, color:"#333", font:{family:FONT,size:8}, callback:(_: any, i: number) => xLabels ? chromLabels[i] : "" } },
          y:{ type:"linear", min:yMin, max:yMax,
            afterBuildTicks:(s: any) => { s.ticks = yTicks.map((v: number) => ({value:v})); },
            afterFit:(s: any) => { s.width = p.left - (titleX-5); },
            border:{display:false},
            grid:{ drawOnChartArea:false, drawTicks:true, tickLength:3, color:"#444", lineWidth:0.8 },
            title:{ display:true, text:yTitle, color:"#222", padding:0, font:{family:FONT,size:8.2,weight:"bold",lineHeight:1.2} },
            ticks:{ autoSkip:false, padding:3, color:"#333", font:{family:FONT,size:8}, callback:(v: number) => fmt(v) } },
        },
      } as any,
    } as any);
    return () => chart.destroy();
  }, []);
  return <canvas ref={ref} width={1080} height={height} style={{ position:"absolute", left:0, top, width:1080, height }} />;
}

const minus = (s: string) => s.replace("-", "\u2212");

function text(key: string, s: any, style: any) {
  return <div key={key} style={{ position:"absolute", whiteSpace:"nowrap", transform:"translateY(-50%)", lineHeight:1, ...style }}>{s}</div>;
}

function Panel({ p }: any) {
  const cx = (p.left + p.right) / 2 - 0.3;
  return <>
    <Plot p={p} box={p.covBox} yMin={p.covBox[2]} yMax={p.covBox[3]} yTicks={p.covTicks} yTitle="Coverage" titleX={p.titleX[0]} sets={covSets(p)} fmt={(v: number) => String(v)} />
    <Plot p={p} box={p.vafBox} yMin={-0.018} yMax={1.02} yTicks={[0,0.5,1]} yTitle="VAF" titleX={p.titleX[1]} sets={vafSets(p)} fmt={(v: number) => v.toFixed(1)} />
    <Plot p={p} box={p.crBox} yMin={p.crBox[2]} yMax={p.crBox[3]} yTicks={p.crTicks} yTitle="Copy ratio (log2)" titleX={p.titleX[2]} sets={crSets(p, p.crBox[2], p.crBox[3])} xLabels fmt={(v: number) => minus(String(v))} />
    {text(p.id+"l", p.id, { left:9, top:p.letterY, fontFamily:"'Liberation Sans'", fontWeight:"bold", fontSize:25, color:"#111" })}
    {text(p.id+"t", p.title, { left:cx, top:p.titleY, transform:"translate(-50%,-50%)", fontFamily:FONT, fontWeight:"bold", fontSize:10, color:"#222" })}
    {text(p.id+"x", "Chromosome", { left:cx, top:p.xLabelY, transform:"translate(-50%,-50%)", fontFamily:FONT, fontWeight:"bold", fontSize:8.4, color:"#222" })}
    {text(p.id+"f", p.fracText, { left:930, top:p.fracY, fontFamily:"'Liberation Sans'", fontSize:15.2, color:"#222" })}
    {legendItems.map((it) => <React.Fragment key={it.label}>
      <div style={{ position:"absolute", left:it.x0+p.legendDx, top:p.legendY-0.8, width:24, height:0, borderTop:it.dash ? "1.2px dotted "+it.line : "2px solid "+it.line }} />
      {text(p.id+it.label, it.label, { left:it.text+p.legendDx, top:p.legendY, fontFamily:FONT, fontSize:9.2, color:it.color })}
    </React.Fragment>)}
  </>;
}

export default function App() {
  return <div style={{ position:"absolute", left:0, top:0, width:1080, height:1383, overflow:"hidden", background:"#fff", filter:"blur(0.35px)" }}>
    {panels.map((p) => <Panel key={p.id} p={p} />)}
    {text("c1", "cnLOH_1q", { left:97, top:717, fontFamily:"'Liberation Sans'", fontSize:14.8, color:"#222" })}
    {text("c2", <><i>MYCN</i> amplification</>, { left:180, top:765, fontFamily:"'Liberation Sans'", fontSize:14.9, color:"#222" })}
    {text("d1", <><i>WT1</i> focal copy loss</>, { left:600, top:1322.5, fontFamily:"'Liberation Sans'", fontSize:15, color:"#222" })}
    <svg width={1080} height={1383} style={{ position:"absolute", left:0, top:0, pointerEvents:"none" }} fill="none" stroke="#111" strokeWidth={1.3}>
      <path d="M132.7 733 V793 M127 785.5 L132.7 793.5 L138.4 785.5" />
      <path d="M173.5 764.5 H162 M167.5 759 L162 764.5 L167.5 770" />
      <path d="M597 1320.5 L578 1310.5 M587 1310.3 L577.7 1310.3 L582.5 1318" />
    </svg>
  </div>;
}
